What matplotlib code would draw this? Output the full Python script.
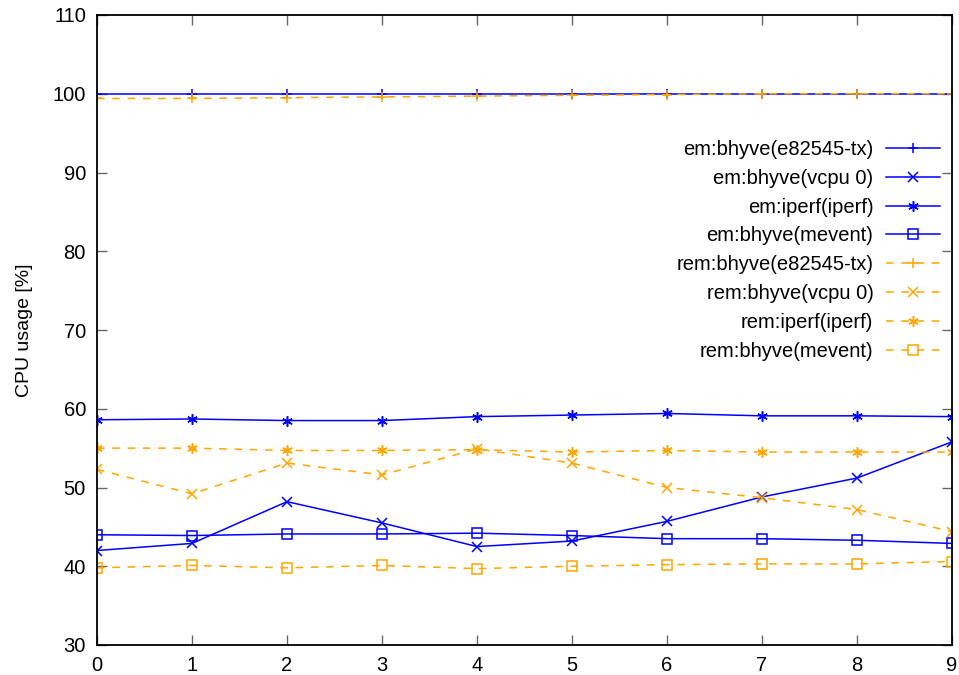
import matplotlib
matplotlib.use("Agg")
import matplotlib.pyplot as plt

plt.rcParams["font.family"] = ["Liberation Sans", "DejaVu Sans"]

x = list(range(10))

em_e82545 = [100, 100, 100, 100, 100, 100, 100, 100, 100, 100]
em_vcpu = [42.0, 42.9, 48.2, 45.5, 42.5, 43.2, 45.7, 48.8, 51.2, 55.8]
em_iperf = [58.6, 58.7, 58.5, 58.5, 59.0, 59.2, 59.4, 59.1, 59.1, 59.0]
em_mevent = [44.0, 43.9, 44.1, 44.1, 44.2, 43.9, 43.5, 43.5, 43.3, 42.9]

rem_e82545 = [99.4, 99.4, 99.5, 99.6, 99.7, 99.8, 99.9, 100, 100, 100]
rem_vcpu = [52.3, 49.2, 53.1, 51.6, 54.9, 53.1, 50.0, 48.7, 47.2, 44.4]
rem_iperf = [55.0, 55.0, 54.7, 54.7, 54.8, 54.5, 54.7, 54.5, 54.5, 54.5]
rem_mevent = [39.8, 40.1, 39.8, 40.1, 39.7, 40.0, 40.2, 40.3, 40.3, 40.6]

blue = "#0000ff"
orange = "#ffa500"
dash = (0, (5, 5))

fig = plt.figure(figsize=(9.59, 6.75), dpi=100)
ax = fig.add_axes([97 / 959, 30 / 675, 855 / 959, 630 / 675])

series = [
    ("em:bhyve(e82545-tx)", em_e82545, blue, "-", "+"),
    ("em:bhyve(vcpu 0)", em_vcpu, blue, "-", "x"),
    ("em:iperf(iperf)", em_iperf, blue, "-", (6, 2, 0)),
    ("em:bhyve(mevent)", em_mevent, blue, "-", "s"),
    ("rem:bhyve(e82545-tx)", rem_e82545, orange, dash, "+"),
    ("rem:bhyve(vcpu 0)", rem_vcpu, orange, dash, "x"),
    ("rem:iperf(iperf)", rem_iperf, orange, dash, (6, 2, 0)),
    ("rem:bhyve(mevent)", rem_mevent, orange, dash, "s"),
]

for label, ys, color, ls, marker in series:
    ax.plot(x, ys, color=color, linestyle=ls, linewidth=1.1, marker=marker,
            markersize=7.5, markerfacecolor="none", markeredgecolor=color,
            markeredgewidth=1.1, label=label)

ax.set_xlim(0, 9)
ax.set_ylim(30, 110)
ax.set_xticks(x)
ax.set_yticks(range(30, 111, 10))
ax.tick_params(direction="in", length=7, width=1, top=True, right=True,
               labelsize=14.5, color="#666666", pad=8)
for s in ax.spines.values():
    s.set_linewidth(1.3)
ax.set_ylabel("CPU usage [%]", fontsize=14, labelpad=14)

ax.legend(loc="upper right", bbox_to_anchor=(1.0, 0.821), frameon=False,
          markerfirst=False, fontsize=14.5, handlelength=2.7,
          labelspacing=0.49, handletextpad=0.6, borderaxespad=0.2)

fig.savefig("out.png", dpi=100)
